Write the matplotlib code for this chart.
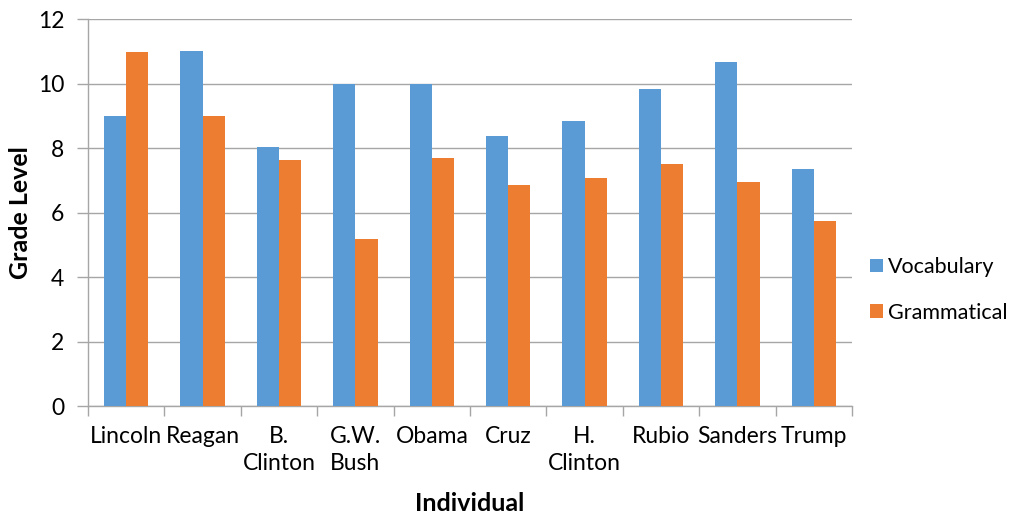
import numpy as np
import matplotlib.pyplot as plt

plt.rcParams['font.family'] = ['Lato', 'DejaVu Sans']

individuals = ['Lincoln', 'Reagan', 'B.\nClinton', 'G.W.\nBush', 'Obama',
               'Cruz', 'H.\nClinton', 'Rubio', 'Sanders', 'Trump']
vocabulary = [9.0, 11.0, 8.02, 10.0, 10.0, 8.38, 8.85, 9.83, 10.68, 7.36]
grammatical = [10.97, 9.0, 7.62, 5.18, 7.68, 6.87, 7.08, 7.50, 6.94, 5.75]

blue = '#5b9bd5'
orange = '#ed7d31'
grey = '#a6a6a6'

fig = plt.figure(figsize=(10.24, 5.16), dpi=100)
ax = fig.add_axes([0.086, 0.213, 0.746, 0.750])

x = np.arange(len(individuals))
w = 0.29
ax.bar(x - w / 2, vocabulary, w, color=blue, label='Vocabulary', zorder=3)
ax.bar(x + w / 2, grammatical, w, color=orange, label='Grammatical', zorder=3)

ax.set_xlim(-0.5, len(individuals) - 0.5)
ax.set_ylim(0, 12)
ax.set_yticks(range(0, 13, 2))
ax.yaxis.grid(True, color=grey, linewidth=1, zorder=0)

ax.set_xticks(x)
ax.set_xticklabels(individuals, linespacing=1.4)
ax.set_xticks(np.arange(-0.5, len(individuals)), minor=True)
ax.tick_params(axis='x', which='major', length=0, pad=14, labelsize=16.5)
ax.tick_params(axis='x', which='minor', length=7, color=grey, width=1)
ax.tick_params(axis='y', length=8, color=grey, width=1, pad=9, labelsize=16.5)

for side in ['top', 'right']:
    ax.spines[side].set_visible(False)
for side in ['left', 'bottom']:
    ax.spines[side].set_color(grey)
    ax.spines[side].set_linewidth(1)

ax.set_ylabel('Grade Level', fontsize=18, fontweight='bold')
ax.yaxis.set_label_coords(-0.074, 0.5)
ax.set_xlabel('Individual', fontsize=18, fontweight='bold')
ax.xaxis.set_label_coords(0.5, -0.222)

ax.legend(loc='center left', bbox_to_anchor=(0.998, 0.30), frameon=False,
          fontsize=15.5, handlelength=0.6, handleheight=0.6, handletextpad=0.25,
          labelspacing=1.2)

fig.savefig('out.png', dpi=100)
